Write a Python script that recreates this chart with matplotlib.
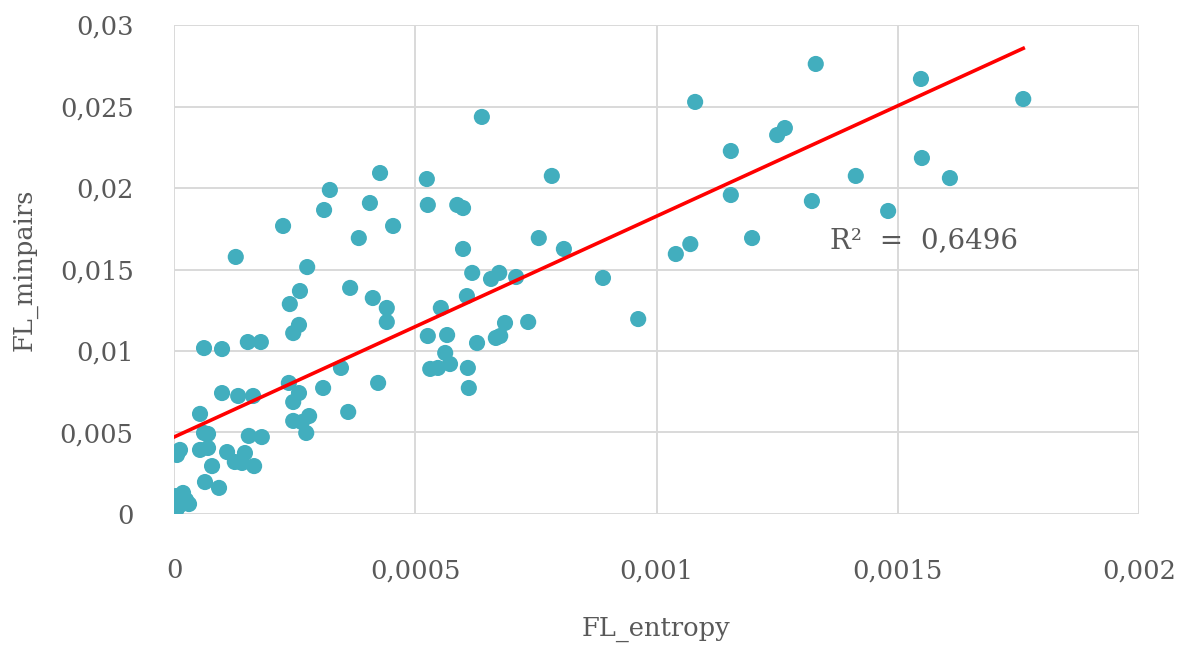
import numpy as np
import matplotlib
matplotlib.use("Agg")
import matplotlib.pyplot as plt
from matplotlib.ticker import FuncFormatter

plt.rcParams["font.family"] = ["DejaVu Serif"]

# functional load: entropy-based vs minimal-pair counts
fl_entropy = [
    0.0, 0.000004, 0.000008, 0.0000145, 0.0000187, 0.0000249, 0.0000311, 0.0000104, 0.0000041,
    0.0000062, 0.0000124, 0.0000539, 0.0000622, 0.0000705, 0.0000539, 0.0000705, 0.00011,
    0.000147, 0.000126, 0.000141, 0.000166, 0.0000788, 0.0000642, 0.0000933, 0.000155, 0.000182,
    0.0000622, 0.0000995, 0.000153, 0.00018, 0.000128, 0.0000995, 0.000133, 0.000164,
    0.000226, 0.00024, 0.000261, 0.000276, 0.000247, 0.000259, 0.000238, 0.000259, 0.000247,
    0.000309, 0.000247, 0.00028, 0.000265, 0.000274, 0.000311, 0.000323, 0.000346, 0.000361,
    0.000365, 0.000383, 0.000406, 0.000412, 0.000423, 0.000427, 0.000441, 0.000441, 0.000454,
    0.000524, 0.000526, 0.000587, 0.000599, 0.000599, 0.000638, 0.000618, 0.000657, 0.000674,
    0.000709, 0.000607, 0.000553, 0.000526, 0.000566, 0.000628, 0.000667, 0.000676, 0.000686,
    0.000734, 0.000783, 0.000756, 0.000808, 0.000889, 0.000962, 0.000562, 0.000572, 0.000531,
    0.000547, 0.000609, 0.000611, 0.00104, 0.00107, 0.00108, 0.001154, 0.001154, 0.001198,
    0.00125, 0.001266, 0.001322, 0.00133, 0.001413, 0.00148, 0.001548, 0.00155, 0.001608,
    0.00176,
]
fl_minpairs = [
    0.0, 0.00018, 0.00067, 0.00098, 0.00129, 0.00086, 0.00061, 0.00049, 0.0011,
    0.00362, 0.00393, 0.00614, 0.00497, 0.00491, 0.00393, 0.00405, 0.0038,
    0.00374, 0.00319, 0.00313, 0.00294, 0.00294, 0.00196, 0.0016, 0.00479, 0.00472,
    0.01018, 0.01012, 0.01055, 0.01055, 0.01577, 0.00742, 0.00724, 0.00724,
    0.01767, 0.01288, 0.01368, 0.01515, 0.0111, 0.0116, 0.00804, 0.00742, 0.00687,
    0.00773, 0.00571, 0.00601, 0.00564, 0.00497, 0.01865, 0.01988, 0.00896, 0.00626,
    0.01387, 0.01693, 0.01908, 0.01325, 0.00804, 0.02092, 0.01264, 0.01178, 0.01767,
    0.02055, 0.01896, 0.01896, 0.01877, 0.01626, 0.02436, 0.01479, 0.01442, 0.01479,
    0.01454, 0.01337, 0.01264, 0.01092, 0.01098, 0.01049, 0.0108, 0.01092, 0.01172,
    0.01178, 0.02074, 0.01693, 0.01626, 0.01448, 0.01196, 0.00988, 0.0092, 0.0089,
    0.00896, 0.00896, 0.00773, 0.01595, 0.01656, 0.02528, 0.02227, 0.01957, 0.01693,
    0.02325, 0.02368, 0.0192, 0.02761, 0.02074, 0.01859, 0.02669, 0.02184, 0.02061,
    0.02546,
]

# linear trendline as reported with the chart
trend_intercept = 0.00472
trend_slope = 13.55
r2_label = "R²  =  0,6496"

x = np.array(fl_entropy)
y = np.array(fl_minpairs)

fig = plt.figure(figsize=(11.87, 6.48), dpi=100)
ax = fig.add_axes([0.1466, 0.2068, 0.8130, 0.7546])

ax.scatter(x, y, s=135, color="#42AEBE", edgecolors="none", zorder=3)

xs = np.array([0, x.max()])
ax.plot(xs, trend_slope * xs + trend_intercept, color="#FF0000", lw=2.6, zorder=4)

ax.text(0.00136, 0.0168, r2_label, fontsize=20, color="#595959", va="center", ha="left", zorder=5)

ax.set_xlim(0, 0.002)
ax.set_ylim(0, 0.03)
ax.set_xticks(np.arange(0, 0.00201, 0.0005))
ax.set_yticks(np.arange(0, 0.0301, 0.005))
comma = FuncFormatter(lambda v, pos: ("%g" % round(v, 6)).replace(".", ","))
ax.xaxis.set_major_formatter(comma)
ax.yaxis.set_major_formatter(comma)

ax.grid(True, color="#D9D9D9", lw=1.4, zorder=0)
ax.set_axisbelow(True)
for s in ax.spines.values():
    s.set_visible(False)
ax.tick_params(length=0, labelsize=18.5, labelcolor="#595959")
ax.tick_params(axis="x", pad=32)
ax.tick_params(axis="y", pad=29)

ax.set_xlabel("FL_entropy", fontsize=18.5, color="#595959", va="center")
ax.set_ylabel("FL_minpairs", fontsize=18.5, color="#595959", va="center")
ax.xaxis.set_label_coords(0.4995, -0.237)
ax.yaxis.set_label_coords(-0.154, 0.5)

fig.savefig("out.png", dpi=100, facecolor="white")
